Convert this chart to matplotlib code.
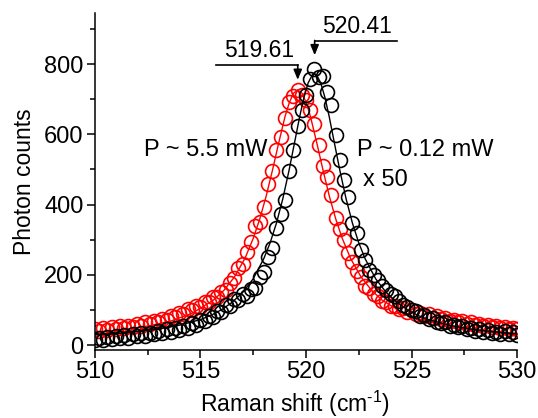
import numpy as np
import matplotlib
matplotlib.use('Agg')
import matplotlib.pyplot as plt

plt.rcParams['font.family'] = ['Liberation Sans', 'DejaVu Sans']
plt.rcParams['mathtext.default'] = 'regular'

# Raman shift grid of the measured points (cm^-1)
shift = np.round(np.arange(510.0, 530.01, 0.2), 1)

# P ~ 0.12 mW (x 50), black circles
counts_low = [16, 22, 15, 24, 18, 27, 20, 29, 22, 31,
              26, 34, 27, 36, 31, 40, 34, 45, 39, 50,
              44, 56, 50, 63, 58, 72, 68, 84, 80, 98,
              96, 114, 112, 131, 128, 145, 140, 160, 162, 195,
              209, 250, 276, 334, 372, 412, 495, 555, 625, 668,
              712, 756, 787, 762, 766, 720, 683, 598, 527, 470,
              423, 347, 319, 271, 243, 214, 200, 186, 168, 158,
              145, 139, 125, 115, 110, 101, 97, 84, 87, 74,
              77, 66, 63, 66, 56, 59, 51, 54, 45, 50,
              42, 46, 38, 43, 35, 37, 33, 40, 31, 38, 30]

# P ~ 5.5 mW, red circles
counts_high = [46, 41, 48, 43, 51, 46, 54, 49, 56, 52,
               60, 56, 65, 60, 70, 66, 76, 72, 84, 80,
               93, 90, 103, 100, 113, 110, 124, 122, 137, 137,
               152, 158, 178, 190, 220, 232, 266, 294, 340, 352,
               394, 458, 497, 556, 592, 646, 692, 708, 727, 712,
               698, 668, 628, 570, 510, 478, 428, 362, 330, 300,
               262, 236, 212, 195, 170, 162, 146, 140, 126, 123,
               112, 113, 103, 106, 96, 99, 90, 93, 84, 88,
               79, 82, 74, 77, 69, 73, 65, 69, 61, 65,
               57, 61, 54, 58, 51, 55, 48, 52, 46, 50, 45]

# Lorentzian fit curves
fit_low_x = [510, 511, 512, 513, 514, 515, 515.5, 516, 516.5, 517, 517.5, 518,
             518.3, 518.6, 518.9, 519.2, 519.5, 519.7, 519.9, 520.1, 520.3, 520.4,
             520.5, 520.7, 520.9, 521.1, 521.3, 521.6, 521.9, 522.2, 522.5, 522.8,
             523.3, 523.8, 524.3, 524.8, 525.3, 525.8, 526.8, 527.8, 528.8, 529.8, 530]
fit_low_y = [30, 33, 39, 46, 57, 73, 85, 101, 122, 150, 189, 246,
             291, 347, 416, 498, 589, 650, 704, 746, 769, 772,
             769, 746, 704, 650, 589, 498, 416, 347, 291, 246,
             189, 150, 122, 101, 85, 73, 57, 46, 39, 33, 33]

fit_high_x = [510, 510.61, 511.61, 512.61, 513.61, 514.61, 515.61, 516.11, 516.61,
              517.11, 517.51, 517.81, 518.11, 518.41, 518.71, 519.01, 519.21, 519.41,
              519.61, 519.81, 520.01, 520.21, 520.51, 520.81, 521.11, 521.41, 521.71,
              522.11, 522.61, 523.11, 523.61, 524.61, 525.61, 526.61, 527.61, 528.61, 530]
fit_high_y = [37, 40, 46, 56, 69, 91, 128, 156, 194,
              247, 305, 359, 423, 497, 576, 651, 690, 717,
              726, 717, 690, 651, 576, 497, 423, 359, 305,
              247, 194, 156, 128, 91, 69, 56, 46, 40, 34]

peak_high = 519.61
peak_low = 520.41

fig = plt.figure(figsize=(5.38, 4.18), dpi=100)
ax = fig.add_axes([0.176, 0.163, 0.7855, 0.805])

ax.plot(shift, counts_high, 'o', ms=10, mfc='none', mec='red', mew=1.2)
ax.plot(fit_high_x, fit_high_y, '-', color='red', lw=1.0)
ax.plot(shift, counts_low, 'o', ms=10, mfc='none', mec='black', mew=1.2)
ax.plot(fit_low_x, fit_low_y, '-', color='black', lw=1.0)

# peak position markers
ax.plot([515.75, peak_high], [796, 796], color='black', lw=1.2)
ax.annotate('', xy=(peak_high, 755), xytext=(peak_high, 797),
            arrowprops=dict(arrowstyle='-|>,head_length=0.6,head_width=0.25',
                            color='black', lw=1.2, shrinkA=0, shrinkB=0))
ax.text(517.78, 838, '%.2f' % peak_high, ha='center', va='center', fontsize=16.5)

ax.plot([524.32, peak_low], [866, 866], color='black', lw=1.2)
ax.annotate('', xy=(peak_low, 825), xytext=(peak_low, 867),
            arrowprops=dict(arrowstyle='-|>,head_length=0.6,head_width=0.25',
                            color='black', lw=1.2, shrinkA=0, shrinkB=0))
ax.text(522.4, 907, '%.2f' % peak_low, ha='center', va='center', fontsize=16.5)

ax.text(515.26, 556, 'P ~ 5.5 mW', ha='center', va='center', fontsize=17)
ax.text(522.4, 556, 'P ~ 0.12 mW', ha='left', va='center', fontsize=17)
ax.text(522.7, 471, 'x 50', ha='left', va='center', fontsize=17)

ax.set_xlim(510, 530)
ax.set_ylim(-13, 944)
ax.set_xticks([510, 515, 520, 525, 530])
ax.set_xticks(np.arange(512.5, 530, 5), minor=True)
ax.set_yticks([0, 200, 400, 600, 800])
ax.set_yticks(np.arange(100, 950, 200), minor=True)

for s in ['top', 'right']:
    ax.spines[s].set_visible(False)
for s in ['left', 'bottom']:
    ax.spines[s].set_linewidth(1.1)
ax.tick_params(which='major', direction='out', length=6, width=1.1, labelsize=17, pad=2)
ax.tick_params(which='minor', direction='out', length=3.5, width=1.1)

ax.set_xlabel('Raman shift (cm$^{\u2010 1}$)', fontsize=16.5)
ax.xaxis.set_label_coords(0.474, -0.115)
ax.set_ylabel('Photon counts', fontsize=16.5, labelpad=6)

fig.savefig('out.png', dpi=100)
